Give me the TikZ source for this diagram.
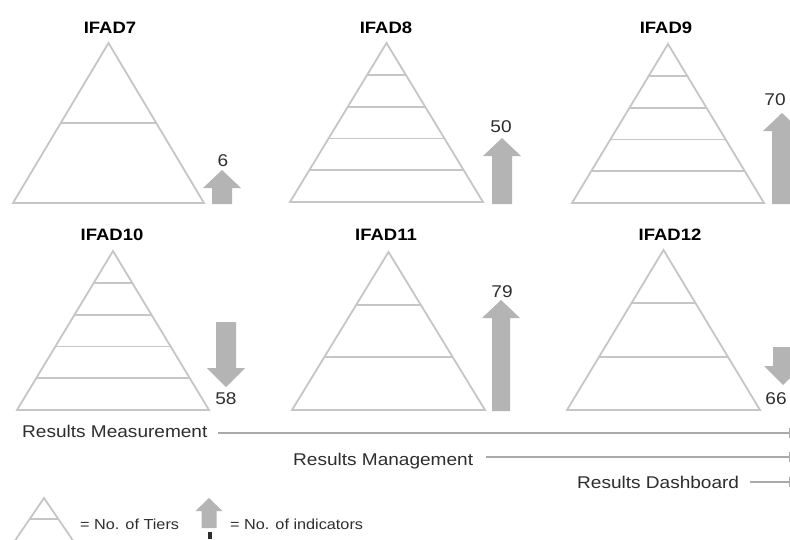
\documentclass[tikz,border=0pt]{standalone}
\usepackage{fontspec}
\setmainfont{Liberation Sans}[FakeStretch=1.12]
\usetikzlibrary{arrows.meta}
\definecolor{tri}{HTML}{C6C6C6}
\definecolor{arr}{HTML}{B4B4B4}
\definecolor{txt}{HTML}{2E2E2E}
\definecolor{resl}{HTML}{AAAAAA}
\tikzset{
  triline/.style={draw=tri,line width=1.8pt,line join=miter},
  arrfill/.style={fill=arr,draw=none},
  ttl/.style={font=\bfseries\fontsize{16.5}{18}\selectfont,text=black,anchor=base,inner sep=0pt},
  numlbl/.style={font=\fontsize{17}{19}\selectfont,text=txt,anchor=base,inner sep=0pt},
  reslbl/.style={font=\fontsize{17}{19}\selectfont,text=txt,anchor=base west,inner sep=0pt},
  leglbl/.style={font=\fontsize{14.5}{16}\selectfont,text=txt,anchor=base west,inner sep=0pt},
  resline/.style={draw=resl,line width=2.6pt,-{Triangle[width=10pt,length=9pt]}},
}
% cx, apex y, base y, half width, tiers
\newcommand{\pyr}[5]{%
  \draw[triline] (#1,#2) -- ({#1+#4},#3) -- ({#1-#4},#3) -- cycle;
  \pgfmathtruncatemacro\nmo{#5-1}%
  \foreach \i in {1,...,\nmo}{%
    \pgfmathsetmacro\yy{#2+\i*(#3-#2)/#5}%
    \pgfmathsetmacro\hw{#4*\i/#5}%
    \draw[triline] ({#1-\hw},\yy) -- ({#1+\hw},\yy);
  }%
}
% cx, tip y, tail y, head half, shaft half, head length  (works up or down)
\newcommand{\bigarr}[6]{%
  \pgfmathsetmacro\hb{#2+(#3>#2 ? 1 : -1)*#6}%
  \fill[arrfill] ({#1-#5},#3) -- ({#1-#5},\hb) -- ({#1-#4},\hb) -- (#1,#2)
     -- ({#1+#4},\hb) -- ({#1+#5},\hb) -- ({#1+#5},#3) -- cycle;
}
\begin{document}
\begin{tikzpicture}[x=1pt,y=-1pt]
\useasboundingbox (0,0) rectangle (790,539);
\fill[white] (0,0) rectangle (790,539);
\clip (0,0) rectangle (790,539);

% titles
\node[ttl] (t7)  at (110,33)  {IFAD7};
\node[ttl] (t8)  at (386,33)  {IFAD8};
\node[ttl] (t9)  at (666,33)  {IFAD9};
\node[ttl] (t10) at (112,240) {IFAD10};
\node[ttl] (t11) at (386,240) {IFAD11};
\node[ttl] (t12) at (670,240) {IFAD12};

% pyramids
\pyr{108.5}{43}{203}{95.5}{2}
\pyr{386.5}{43}{202}{96.5}{5}
\pyr{668}{44}{203}{96}{5}
\pyr{113}{251}{410}{96}{5}
\pyr{388.5}{252}{410}{96.5}{3}
\pyr{663.5}{250}{410}{96.5}{3}

% indicator arrows
\bigarr{222}{170}{204}{19}{10}{18}
\bigarr{502}{138}{204}{19}{10}{18}
\bigarr{782}{113}{204}{19}{10}{18}
\bigarr{501}{300}{411}{19}{9}{18}
\bigarr{226}{387}{322}{19}{10}{19}
\bigarr{783}{385}{347}{19}{10}{19}

% numbers
\node[numlbl] (n7)  at (223,166) {6};
\node[numlbl] (n8)  at (501,132) {50};
\node[numlbl] (n9)  at (775,105) {70};
\node[numlbl] (n11) at (502,297) {79};
\node[numlbl] (n10) at (226,404) {58};
\node[numlbl] (n12) at (776,404) {66};

% results lines
\node[reslbl] (rm) at (22,437)  {Results Measurement};
\node[reslbl] (rg) at (293,465) {Results Management};
\node[reslbl] (rd) at (577,488) {Results Dashboard};
\coordinate (rmend) at (798,433);
\coordinate (rgend) at (798,457);
\coordinate (rdend) at (798,482);
\draw[resline] (218,433) -- (rmend);
\draw[resline] (486,457) -- (rgend);
\draw[resline] (750,482) -- (rdend);

% legend
\draw[triline] (12,545) -- (44,498) -- (76,545);
\draw[triline] (30,519) -- (58,519);
\node[leglbl] (lt) at (80,529) {= No. of Tiers};
\bigarr{209}{498}{528}{13.5}{7.5}{13}
\fill[txt] (207.5,532) rectangle (211.5,539);
\node[leglbl] (li) at (230,529) {= No. of indicators};
\end{tikzpicture}
\end{document}
